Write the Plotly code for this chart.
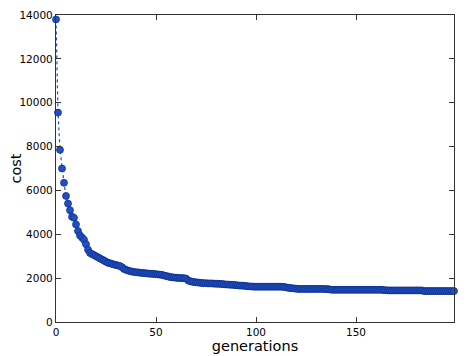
import plotly.graph_objects as go

generations = list(range(200))
cost = [
    13800, 9550, 7850, 7000, 6350, 5750, 5400, 5100, 4800, 4750,
    4450, 4150, 3950, 3850, 3750, 3550, 3300, 3150, 3100, 3050,
    3000, 2950, 2900, 2850, 2800, 2750, 2700, 2680, 2650, 2620,
    2600, 2580, 2550, 2500, 2420, 2380, 2350, 2320, 2300, 2280,
    2270, 2260, 2250, 2240, 2230, 2220, 2210, 2200, 2200, 2190,
    2180, 2170, 2160, 2150, 2120, 2100, 2080, 2050, 2040, 2030,
    2020, 2010, 2010, 2000, 2000, 1980, 1900, 1860, 1840, 1820,
    1810, 1800, 1790, 1780, 1770, 1770, 1760, 1760, 1760, 1750,
    1750, 1740, 1740, 1730, 1720, 1710, 1710, 1700, 1700, 1690,
    1680, 1670, 1660, 1660, 1650, 1640, 1630, 1620, 1620, 1610,
    1610, 1610, 1610, 1610, 1610, 1610, 1610, 1610, 1610, 1610,
    1610, 1610, 1610, 1605, 1600, 1580, 1560, 1550, 1540, 1530,
    1520, 1510, 1510, 1510, 1510, 1510, 1510, 1510, 1510, 1510,
    1510, 1510, 1510, 1510, 1505, 1500, 1500, 1480, 1470, 1470,
    1470, 1470, 1470, 1470, 1470, 1470, 1470, 1470, 1470, 1470,
    1470, 1470, 1470, 1470, 1470, 1470, 1470, 1470, 1470, 1470,
    1470, 1470, 1470, 1470, 1450, 1450, 1440, 1440, 1440, 1440,
    1440, 1440, 1440, 1440, 1440, 1440, 1440, 1440, 1440, 1440,
    1440, 1440, 1440, 1440, 1410, 1410, 1410, 1410, 1410, 1410,
    1410, 1410, 1410, 1410, 1410, 1410, 1410, 1410, 1410, 1410,
]
x_ticks = [0, 50, 100, 150]
y_ticks = [0, 2000, 4000, 6000, 8000, 10000, 12000, 14000]

fig = go.Figure()
fig.add_trace(go.Scatter(
    x=generations, y=cost, mode="lines+markers",
    line=dict(color="#1f50c8", width=1.2, dash="dot"),
    marker=dict(size=7, color="#1f50c8", line=dict(color="#0b2a80", width=0.7)),
    showlegend=False, cliponaxis=False,
))

axis_common = dict(
    showline=True, linecolor="#333333", linewidth=1.2, mirror="ticks",
    ticks="inside", ticklen=5, tickcolor="#333333", showgrid=False, zeroline=False,
    automargin=False,
    tickfont=dict(family="DejaVu Sans", size=10.5, color="black"),
)
fig.update_xaxes(range=[0, 199], tickvals=x_ticks, ticktext=[str(v) for v in x_ticks],
                 title=dict(text="generations", font=dict(family="DejaVu Sans", size=14.5, color="black"), standoff=4),
                 **axis_common)
fig.update_yaxes(range=[0, 14000], tickvals=y_ticks, ticktext=[str(v) for v in y_ticks],
                 title=dict(text="cost", font=dict(family="DejaVu Sans", size=14.5, color="black"), standoff=10),
                 **axis_common)
fig.update_layout(
    width=466, height=348,
    margin=dict(l=48, r=20, t=7, b=34),
    paper_bgcolor="white", plot_bgcolor="white",
)
fig.write_html("out.html")
